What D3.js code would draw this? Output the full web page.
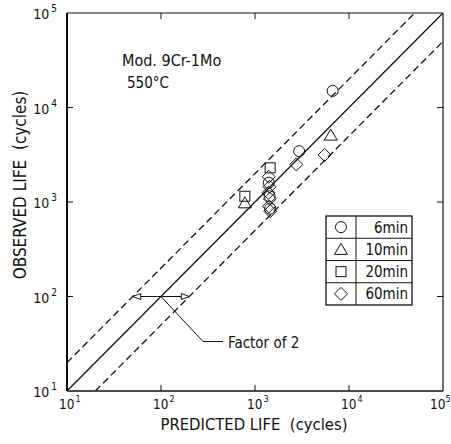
<!DOCTYPE html>
<html><head><meta charset="utf-8">
<script src="https://cdn.jsdelivr.net/npm/d3@7"></script>
<style>
html,body{margin:0;padding:0;background:#fff;}
text{font-family:"Liberation Sans Narrow","DejaVu Sans Condensed","Arial Narrow",sans-serif;fill:#111;}
</style></head>
<body><svg id="c" width="451" height="444"></svg>
<script>
// ---- data ----
const decades = [10, 100, 1000, 10000, 100000];
const tickExps = ["1", "2", "3", "4", "5"];
const series = ["6min", "10min", "20min", "60min"];
const symbols = ["circle", "triangle", "square", "diamond"];
const pred6 = [6700, 2950, 1400, 1430, 1450];
const obs6 = [15000, 3450, 1600, 1150, 850];
const pred10 = [6400, 780];
const obs10 = [5100, 980];
const pred20 = [1450, 780];
const obs20 = [2300, 1150];
const pred60 = [5500, 2750, 1400, 1430, 1390, 1440, 1410, 1450];
const obs60 = [3150, 2500, 1850, 1450, 1250, 1080, 900, 800];
const factor = 2;
const arrowLevel = 100;

const svg = d3.select("#c");
const x = d3.scaleLog().domain([10, 1e5]).range([67, 443]);
const y = d3.scaleLog().domain([10, 1e5]).range([391, 13]);
const X0 = 67, X1 = 443, Y0 = 391, Y1 = 13;

svg.append("defs").append("clipPath").attr("id", "clip")
  .append("rect").attr("x", X0).attr("y", Y1).attr("width", X1 - X0).attr("height", Y0 - Y1);

// frame
svg.append("line").attr("x1", X0).attr("x2", X0).attr("y1", Y1).attr("y2", Y0).attr("stroke", "#111").attr("stroke-width", 2);
svg.append("line").attr("x1", X0).attr("x2", X1).attr("y1", Y0).attr("y2", Y0).attr("stroke", "#111").attr("stroke-width", 1.6);
svg.append("line").attr("x1", X0).attr("x2", X1).attr("y1", Y1).attr("y2", Y1).attr("stroke", "#111").attr("stroke-width", 1.2);
svg.append("line").attr("x1", X1).attr("x2", X1).attr("y1", Y1).attr("y2", Y0).attr("stroke", "#111").attr("stroke-width", 1.2);

// ticks inward
const inner = decades.slice(1, -1);
const tk = svg.append("g").attr("stroke", "#111").attr("stroke-width", 1);
inner.forEach(v => {
  tk.append("line").attr("x1", X0).attr("x2", X0 + 6).attr("y1", y(v)).attr("y2", y(v));
  tk.append("line").attr("x1", X1).attr("x2", X1 - 6).attr("y1", y(v)).attr("y2", y(v));
  tk.append("line").attr("x1", x(v)).attr("x2", x(v)).attr("y1", Y0).attr("y2", Y0 - 6);
  tk.append("line").attr("x1", x(v)).attr("x2", x(v)).attr("y1", Y1).attr("y2", Y1 + 6);
});

// tick labels
decades.forEach((v, i) => {
  const t = svg.append("text").attr("x", X0 - 10).attr("y", y(v) + 6)
    .attr("text-anchor", "end").attr("font-size", 14);
  t.append("tspan").text("10");
  t.append("tspan").attr("dx", 2).attr("dy", -7).attr("font-size", 10).text(tickExps[i]);
  const last = i === decades.length - 1;
  const u = svg.append("text").attr("x", x(v) - (last ? 13 : 8)).attr("y", Y0 + 18)
    .attr("font-size", 13.5);
  u.append("tspan").text("10");
  u.append("tspan").attr("dx", last ? 0 : 1).attr("dy", -7).attr("font-size", 9).text(tickExps[i]);
});

// axis titles
svg.append("text").attr("x", 254).attr("y", 430).attr("text-anchor", "middle")
  .attr("font-size", 16.5).attr("xml:space", "preserve").text("PREDICTED LIFE  (cycles)");
svg.append("text").attr("transform", "translate(26,185) rotate(-90)").attr("text-anchor", "middle")
  .attr("font-size", 17).attr("xml:space", "preserve").text("OBSERVED LIFE  (cycles)");

// diagonal lines
const g = svg.append("g").attr("clip-path", "url(#clip)");
const lineGen = d3.line().x(d => x(d[0])).y(d => y(d[1]));
g.append("path").attr("d", lineGen([[10, 10], [1e5, 1e5]])).attr("stroke", "#111").attr("stroke-width", 1.3).attr("fill", "none");
g.append("path").attr("d", lineGen([[10, 10 * factor], [1e5 / factor, 1e5]])).attr("stroke", "#111").attr("stroke-width", 1.3).attr("stroke-dasharray", "7,4").attr("fill", "none");
g.append("path").attr("d", lineGen([[10 * factor, 10], [1e5, 1e5 / factor]])).attr("stroke", "#111").attr("stroke-width", 1.3).attr("stroke-dasharray", "7,4").attr("fill", "none");

// factor of 2 arrow
const ay = y(arrowLevel);
const axl = x(arrowLevel / factor), axr = x(arrowLevel * factor), axm = x(arrowLevel);
svg.append("line").attr("x1", axl).attr("x2", axr).attr("y1", ay).attr("y2", ay).attr("stroke", "#111").attr("stroke-width", 1.2);
svg.append("path").attr("d", `M${axl + 8},${ay - 3} L${axl},${ay} L${axl + 8},${ay + 3} Z`).attr("fill", "#fff").attr("stroke", "#111").attr("stroke-width", 1);
svg.append("path").attr("d", `M${axr - 8},${ay - 3} L${axr},${ay} L${axr - 8},${ay + 3} Z`).attr("fill", "#fff").attr("stroke", "#111").attr("stroke-width", 1);
svg.append("path").attr("d", `M${axm},${ay} L${axm + 42},${ay + 45} L${axm + 62},${ay + 45}`).attr("fill", "none").attr("stroke", "#111").attr("stroke-width", 1);
svg.append("text").attr("x", axm + 67).attr("y", ay + 51).attr("font-size", 15).text("Factor of 2");

// material text
svg.append("text").attr("x", 122).attr("y", 66).attr("font-size", 16).text("Mod. 9Cr-1Mo");
svg.append("text").attr("x", 127).attr("y", 88).attr("font-size", 15).text("550°C");

// markers
function marker(sel, type, cx, cy) {
  if (type === "circle") sel.append("circle").attr("cx", cx).attr("cy", cy).attr("r", 5.5);
  else if (type === "square") sel.append("rect").attr("x", cx - 5).attr("y", cy - 5).attr("width", 10).attr("height", 10);
  else if (type === "triangle") sel.append("path").attr("d", `M${cx},${cy - 6} L${cx + 6.5},${cy + 5} L${cx - 6.5},${cy + 5} Z`);
  else sel.append("path").attr("d", `M${cx},${cy - 6.5} L${cx + 6.5},${cy} L${cx},${cy + 6.5} L${cx - 6.5},${cy} Z`);
}
const mg = svg.append("g").attr("fill", "none").attr("stroke", "#111").attr("stroke-width", 1);
const sets = [[pred6, obs6], [pred10, obs10], [pred20, obs20], [pred60, obs60]];
sets.forEach((s, i) => {
  s[0].forEach((p, j) => marker(mg, symbols[i], x(p), y(s[1][j])));
});

// legend
const lx = 326, ly = 216, lw = 86, rh = 22.25, lc = 30;
const lg = svg.append("g");
lg.append("rect").attr("x", lx).attr("y", ly).attr("width", lw).attr("height", rh * 4)
  .attr("fill", "#fff").attr("stroke", "#111").attr("stroke-width", 1.3);
lg.append("line").attr("x1", lx + lc).attr("x2", lx + lc).attr("y1", ly).attr("y2", ly + rh * 4).attr("stroke", "#111");
const lm = lg.append("g").attr("fill", "none").attr("stroke", "#111").attr("stroke-width", 1);
series.forEach((s, i) => {
  if (i > 0) lg.append("line").attr("x1", lx).attr("x2", lx + lw).attr("y1", ly + rh * i).attr("y2", ly + rh * i).attr("stroke", "#111");
  marker(lm, symbols[i], lx + lc / 2, ly + rh * i + rh / 2);
  lg.append("text").attr("x", lx + lw - 4).attr("y", ly + rh * i + rh / 2 + 5.5)
    .attr("text-anchor", "end").attr("font-size", 15).text(s);
});
</script></body></html>
